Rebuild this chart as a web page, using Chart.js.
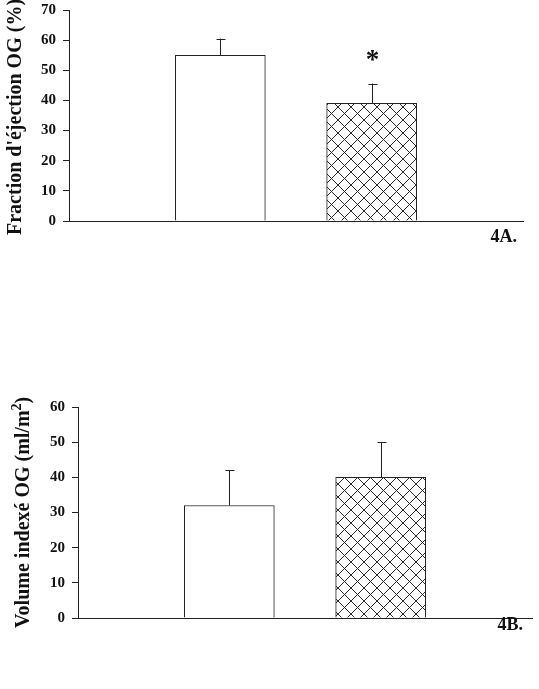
<!DOCTYPE html>
<html>
<head>
<meta charset="utf-8">
<script src="https://cdn.jsdelivr.net/npm/chart.js@4.4.1/dist/chart.umd.min.js"></script>
<style>
  body { margin: 0; background: #fff; overflow: hidden; }
  .box { position: absolute; left: 0; width: 539px; }
  #boxA { top: -10px; height: 270px; }
  #boxB { top: 380px; height: 300px; }
</style>
</head>
<body>
<div class="box" id="boxA"><canvas id="chartA"></canvas></div>
<div class="box" id="boxB"><canvas id="chartB"></canvas></div>
<script>
// categories: empty slots at both ends place the two bars at 1/3 and 2/3 of the axis
const categories = ['', 'Témoins', 'Patients', ''];

// 4A. Fraction d'éjection OG (%)
const ejectionMean = [null, 55, 39, null];
const ejectionSd = [null, 5.5, 6.6, null];
const ejectionTicks = [0, 10, 20, 30, 40, 50, 60, 70];

// 4B. Volume indexé OG (ml/m2)
const volumeMean = [null, 32, 40, null];
const volumeSd = [null, 10, 10, null];
const volumeTicks = [0, 10, 20, 30, 40, 50, 60];

const serif = '"Liberation Serif", "Times New Roman", serif';

function crossHatch() {
    const c = document.createElement('canvas');
    c.width = 13; c.height = 13;
    const g = c.getContext('2d');
    g.fillStyle = '#fff';
    g.fillRect(0, 0, 13, 13);
    g.strokeStyle = '#2a2a2a';
    g.lineWidth = 1;
    g.beginPath();
    g.moveTo(-1, -1); g.lineTo(14, 14);
    g.moveTo(14, -1); g.lineTo(-1, 14);
    g.stroke();
    return g.createPattern(c, 'repeat');
}

// draws upper error bars, the y title, the panel label and an optional star
const extras = {
    id: 'extras',
    afterDatasetsDraw(chart, args, opts) {
        const ctx = chart.ctx;
        const y = chart.scales.y;
        const meta = chart.getDatasetMeta(0);
        ctx.save();
        ctx.strokeStyle = '#222';
        ctx.lineWidth = 1;
        opts.sd.forEach((sd, i) => {
            if (sd == null) return;
            const px = Math.round(meta.data[i].x) + 0.5;
            const top = y.getPixelForValue(opts.mean[i]);
            const end = y.getPixelForValue(opts.mean[i] + sd);
            ctx.beginPath();
            ctx.moveTo(px, top);
            ctx.lineTo(px, end);
            ctx.moveTo(px - 4, Math.round(end) + 0.5);
            ctx.lineTo(px + 5, Math.round(end) + 0.5);
            ctx.stroke();
            if (opts.star === i) {
                ctx.fillStyle = '#111';
                ctx.font = 'bold 27px ' + serif;
                ctx.textAlign = 'center';
                ctx.fillText('*', px, end - 16);
            }
        });

        // y axis title (rotated)
        ctx.fillStyle = '#111';
        ctx.font = 'bold 20px ' + serif;
        ctx.textAlign = 'left';
        ctx.textBaseline = 'alphabetic';
        ctx.translate(opts.titleX, opts.titleY);
        ctx.rotate(-Math.PI / 2);
        ctx.fillText(opts.title, 0, 0);
        if (opts.sup) {
            let w = ctx.measureText(opts.title).width;
            ctx.font = 'bold 14px ' + serif;
            ctx.fillText(opts.sup, w, -8);
            w += ctx.measureText(opts.sup).width;
            ctx.font = 'bold 20px ' + serif;
            ctx.fillText(')', w, 0);
        }
        ctx.restore();

        ctx.save();
        ctx.fillStyle = '#111';
        ctx.font = 'bold 18px ' + serif;
        ctx.textAlign = 'right';
        ctx.fillText(opts.panel, opts.panelX, opts.panelY);
        ctx.restore();
    }
};

function makeChart(id, mean, ticks, padding, axisLeft, extraOpts) {
    return new Chart(document.getElementById(id), {
        type: 'bar',
        data: {
            labels: categories,
            datasets: [{
                data: mean,
                backgroundColor: ['#fff', '#fff', crossHatch(), '#fff'],
                borderColor: '#222',
                borderWidth: 1,
                borderSkipped: 'bottom',
                barThickness: 90
            }]
        },
        options: {
            responsive: true,
            maintainAspectRatio: false,
            animation: false,
            layout: { padding: padding },
            plugins: {
                legend: { display: false },
                tooltip: { enabled: false },
                extras: extraOpts
            },
            scales: {
                x: {
                    offset: false,
                    grid: { display: false },
                    border: { display: true, color: '#222', width: 1 },
                    ticks: { display: false },
                    afterFit: s => { s.height = 0; }
                },
                y: {
                    min: 0,
                    max: ticks[ticks.length - 1],
                    afterBuildTicks: s => { s.ticks = ticks.map(v => ({ value: v })); },
                    grid: { drawOnChartArea: false, tickLength: 6, color: '#222' },
                    border: { display: true, color: '#222', width: 1 },
                    ticks: {
                        color: '#111',
                        padding: 7,
                        font: { family: serif, size: 15, weight: 'bold' }
                    },
                    afterFit: s => { s.width = axisLeft; }
                }
            }
        },
        plugins: [extras]
    });
}

// panel A canvas starts 10px above the page
makeChart('chartA', ejectionMean, ejectionTicks,
    { left: 0, top: 20, right: 16, bottom: 39 }, 69,
    { mean: ejectionMean, sd: ejectionSd, star: 2,
      title: "Fraction d'éjection OG (%)", titleX: 21, titleY: 245,
      panel: '4A.', panelX: 517, panelY: 252 });

makeChart('chartB', volumeMean, volumeTicks,
    { left: 0, top: 27, right: 7, bottom: 62 }, 78,
    { mean: volumeMean, sd: volumeSd,
      title: 'Volume indexé OG (ml/m', sup: '2', titleX: 29, titleY: 248,
      panel: '4B.', panelX: 523, panelY: 250 });
</script>
</body>
</html>
